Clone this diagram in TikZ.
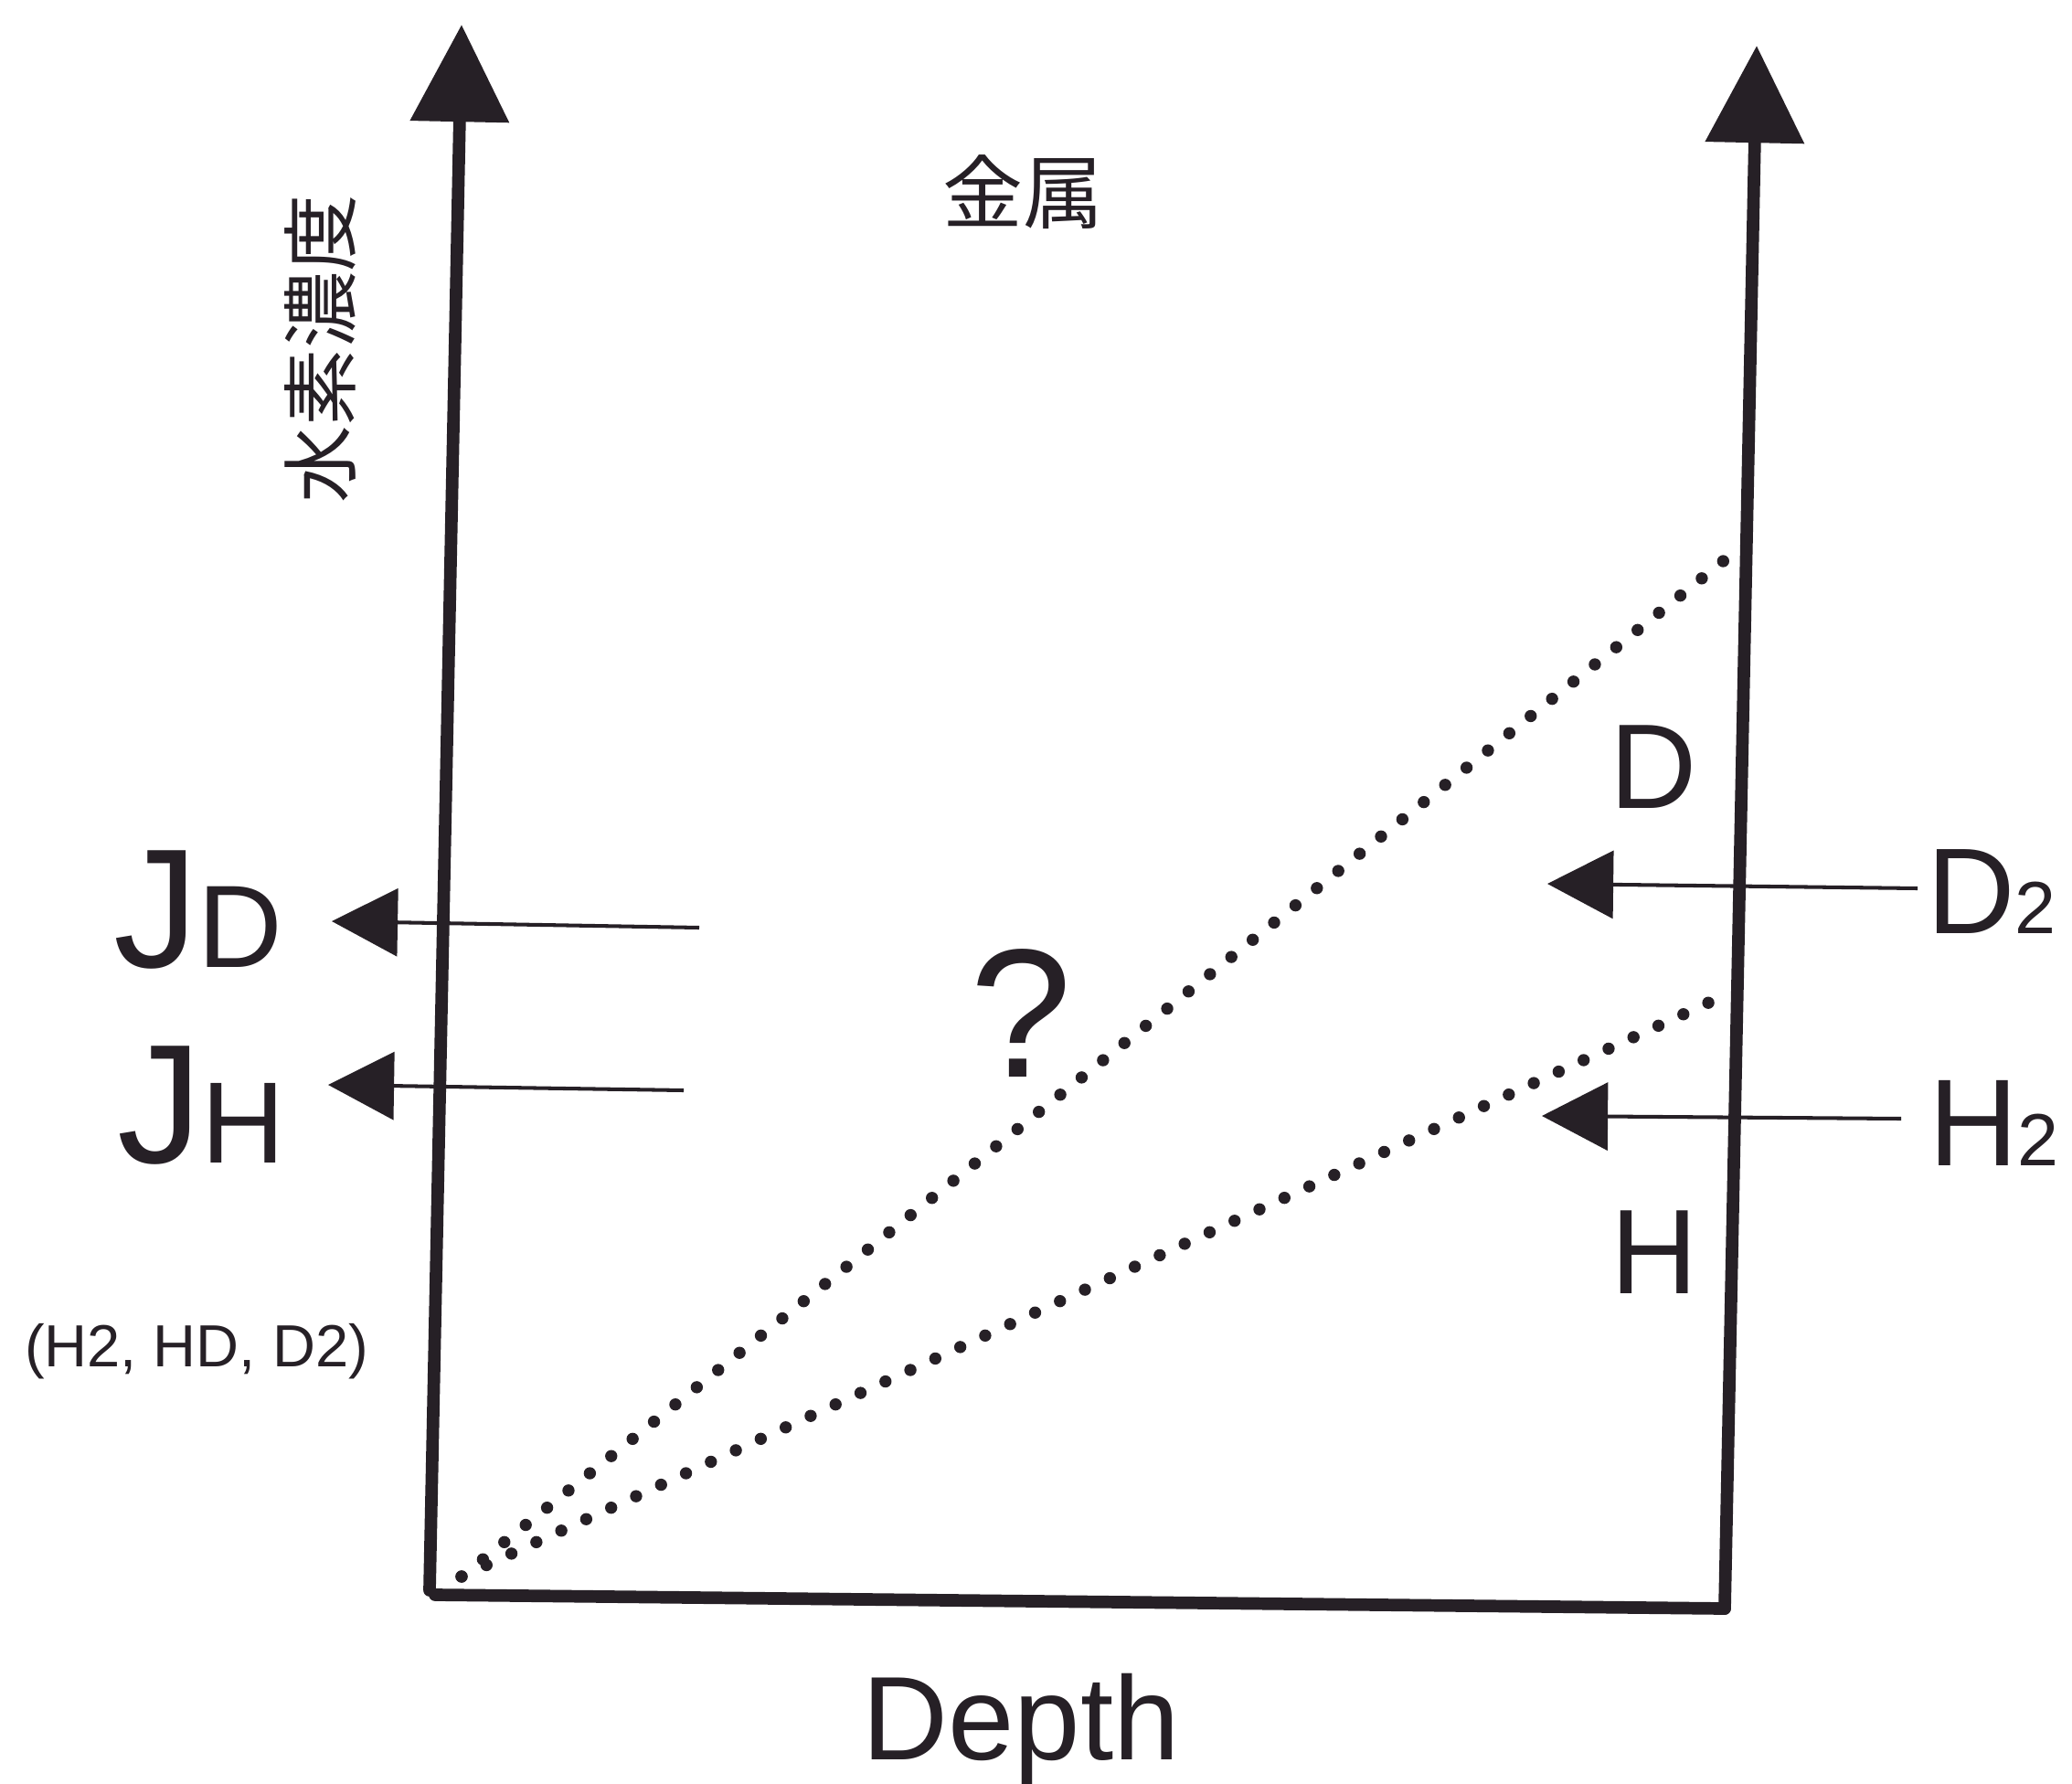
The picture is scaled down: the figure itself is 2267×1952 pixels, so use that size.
\documentclass[tikz,border=0pt]{standalone}
\usepackage{fontspec}
\setmainfont{Liberation Sans}
\newfontfamily\cjk{Noto Sans CJK JP}
\usetikzlibrary{arrows.meta}
\definecolor{ink}{RGB}{38,32,38}
\tikzset{
  axisline/.style={draw=ink, line width=3.9pt, line cap=round},
  axisarrow/.style={axisline, -{Triangle[length=30.2pt, width=29.9pt]}},
  fluxarrow/.style={draw=ink, line width=1.15pt, -{Triangle[length=20.5pt, width=21pt]}},
  dotline/.style={draw=ink, line width=3.8pt, line cap=round, dash pattern=on 0pt off 8.54pt},
  lbl/.style={text=ink, inner sep=0pt, outer sep=0pt}
}
\begin{document}
\begin{tikzpicture}[x=0.01cm, y=-0.01cm]
\useasboundingbox[fill=white] (0,0) rectangle (2267,1952);
% axes coordinates
\coordinate (lbot) at (470,1740);
\coordinate (ltop) at (505,27);
\coordinate (rbot) at (1887,1760);
\coordinate (rtop) at (1922,50);
\coordinate (bl) at (476,1745);
\coordinate (br) at (1887,1760);
\draw[axisarrow] (lbot) -- (ltop);
\draw[axisarrow] (rbot) -- (rtop);
\draw[axisline] (bl) -- (br);
% dotted profiles
\coordinate (o) at (505,1725);
\coordinate (dend) at (1894,607);
\coordinate (hend) at (1876,1094);
\draw[dotline] (o) -- (dend);
\draw[dotline] (o) -- (hend);
% flux arrows
\coordinate (jdS) at (765,1015);
\coordinate (jdT) at (363,1008);
\coordinate (jhS) at (748,1193);
\coordinate (jhT) at (359,1187);
\coordinate (d2S) at (2098,972);
\coordinate (d2T) at (1693,967);
\coordinate (h2S) at (2080,1224);
\coordinate (h2T) at (1687,1221);
\draw[fluxarrow] (jdS) -- (jdT);
\draw[fluxarrow] (jhS) -- (jhT);
\draw[fluxarrow] (d2S) -- (d2T);
\draw[fluxarrow] (h2S) -- (h2T);
% labels
\node[lbl, anchor=base west] (JD) at (124,1058) {\fontsize{52.8pt}{60pt}\selectfont J\fontsize{36.5pt}{40pt}\selectfont D};
\node[lbl, anchor=base west] (JH) at (128,1272) {\fontsize{52.8pt}{60pt}\selectfont J\fontsize{36pt}{40pt}\selectfont H};
\node[lbl, anchor=base] (gas) at (215,1495) {\fontsize{18.5pt}{20pt}\selectfont (H2, HD, D2)};
\node[lbl, anchor=base] (Dlab) at (1809,884) {\fontsize{37.5pt}{40pt}\selectfont D};
\node[lbl, anchor=base] (Hlab) at (1810,1415) {\fontsize{37.5pt}{40pt}\selectfont H};
\node[lbl, anchor=base west] (D2lab) at (2108,1021) {\fontsize{38pt}{40pt}\selectfont D\fontsize{23pt}{25pt}\selectfont 2};
\node[lbl, anchor=base west] (H2lab) at (2110,1275) {\fontsize{38.5pt}{40pt}\selectfont H\fontsize{23pt}{25pt}\selectfont 2};
\node[lbl, anchor=base] (q) at (1117,1178) {\fontsize{57pt}{60pt}\selectfont ?};
\node[lbl, anchor=base] (depth) at (1117,1925) {\fontsize{37pt}{40pt}\selectfont Depth};
\node[lbl] (metal) at (1119,210) {\cjk\fontsize{25pt}{28pt}\selectfont 金属};
\node[lbl, rotate=90] (conc) at (350,382) {\cjk\fontsize{24pt}{28pt}\selectfont 水素濃度};
\end{tikzpicture}
\end{document}
